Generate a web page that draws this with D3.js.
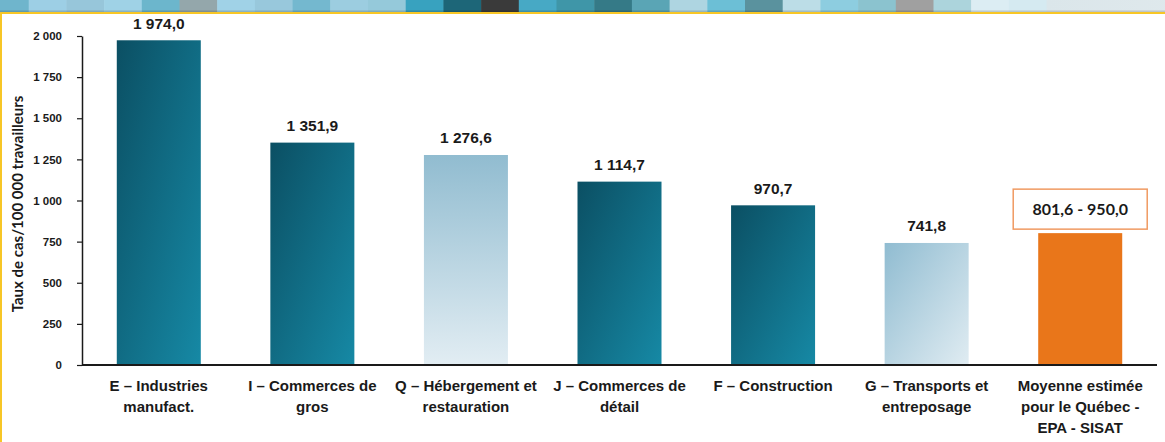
<!DOCTYPE html>
<meta charset="utf-8">
<script src="https://d3js.org/d3.v7.min.js"></script>
<style>
    body { margin: 0; background: #fff; }
    .tick text { font-family: "Liberation Sans", Arial, sans-serif; font-weight: bold; font-size: 11.5px; fill: #1a1a1a; }
    .val-label { font-family: "Liberation Sans", Arial, sans-serif; font-weight: bold; font-size: 15.5px; fill: #1a1a1a; }
    .cat-label { font-family: "Liberation Sans", Arial, sans-serif; font-weight: bold; font-size: 15px; fill: #1a1a1a; }
    .y-title { font-family: Lato, "Open Sans", sans-serif; font-weight: bold; font-size: 15px; fill: #1a1a1a; }
    .range-label { font-family: Lato, "Open Sans", sans-serif; font-weight: bold; font-size: 16px; fill: #1a1a1a; }
</style>
<body>
<div id="chart"></div>
<script>
    // data
    const categories = ["E", "I", "Q", "J", "F", "G", "QC"]
    const categoryLines = [
        ["E – Industries", "manufact."],
        ["I – Commerces de", "gros"],
        ["Q – Hébergement et", "restauration"],
        ["J – Commerces de", "détail"],
        ["F – Construction"],
        ["G – Transports et", "entreposage"],
        ["Moyenne estimée", "pour le Québec -", "EPA - SISAT"]
    ]
    const values = [1974.0, 1351.9, 1276.6, 1114.7, 970.7, 741.8, 801.6]
    const barStyle = ["dark", "dark", "lightV", "dark", "dark", "lightD", "orange"]
    const rangeLabel = "801,6 - 950,0"
    const yTicks = [0, 250, 500, 750, 1000, 1250, 1500, 1750, 2000]
    const yTitle = "Taux de cas/100 000 travailleurs"

    // decorative strip at the top of the slide
    const stripColors = ["#6fb5cc", "#9dcfe5", "#97c6da", "#9fd2e6", "#6cb6cc", "#94a7ab", "#a0d2e7",
        "#98c8dc", "#74b8cf", "#9ccde0", "#95c9da", "#38a2bf", "#1d6678", "#3a3a3a", "#47a9c5",
        "#3f96a8", "#357a87", "#5aa5b5", "#aed5e1", "#6cbfd6", "#5a929e", "#bcdde7", "#8dcde0",
        "#8bc3cf", "#a0a0a0", "#acd4dc", "#dcedf3", "#d5eaf1"]

    const W = 1165, H = 442
    const svg = d3.select("#chart").append("svg")
        .attr("width", W).attr("height", H)

    const defs = svg.append("defs")
    function grad(id, x2, y2, c1, c2) {
        const g = defs.append("linearGradient").attr("id", id)
            .attr("x1", 0).attr("y1", 0).attr("x2", x2).attr("y2", y2)
        g.append("stop").attr("offset", "0%").attr("stop-color", c1)
        g.append("stop").attr("offset", "100%").attr("stop-color", c2)
    }
    grad("dark", 1, 1, "#0b4f63", "#1689a5")
    grad("lightV", 0, 1, "#91bcd0", "#e2edf3")
    grad("lightD", 1, 1, "#90bcd1", "#e0ecf2")
    grad("fade", 1, 0, "#dbe6ea", "#ffffff")
    const fills = {dark: "url(#dark)", lightV: "url(#lightV)", lightD: "url(#lightD)", orange: "#e9761a"}

    // top strip
    const sw = 37.7
    svg.selectAll(".strip").data(stripColors).join("rect")
        .attr("x", (d, i) => -9 + i * sw).attr("y", 0)
        .attr("width", sw + 0.5).attr("height", 12)
        .attr("fill", d => d)
    svg.append("rect").attr("x", -9 + stripColors.length * sw).attr("y", 0)
        .attr("width", W).attr("height", 12).attr("fill", "url(#fade)")
    svg.append("rect").attr("x", 0).attr("y", 10.5).attr("width", W).attr("height", 1.5)
        .attr("fill", "#000").attr("opacity", 0.15)
    svg.append("rect").attr("x", 0).attr("y", 12).attr("width", W).attr("height", 2)
        .attr("fill", "#f7c626")
    svg.append("rect").attr("x", 0).attr("y", 12).attr("width", 2).attr("height", H)
        .attr("fill", "#f7c626")

    // scales
    const x = d3.scaleBand().domain(categories).range([82, 1157])
        .paddingInner(0.453).paddingOuter(0.2265)
    const y = d3.scaleLinear().domain([0, 2000]).range([365, 36])

    const fr = d3.formatLocale({decimal: ",", thousands: " ", grouping: [3], currency: ["", " $"]})
    const fmtTick = fr.format(",d")
    const fmtVal = fr.format(",.1f")

    // y axis
    const yAxis = svg.append("g").attr("transform", "translate(82,0)")
        .call(d3.axisLeft(y).tickValues(yTicks).tickFormat(fmtTick).tickSize(5).tickSizeOuter(0))
    yAxis.select(".domain").attr("stroke", "#1a1a1a").attr("stroke-width", 1.5)
    yAxis.selectAll(".tick line").attr("stroke", "#1a1a1a").attr("stroke-width", 1.2)
    yAxis.selectAll(".tick text").attr("x", -20)

    svg.append("text").attr("class", "y-title")
        .attr("transform", "translate(23,204) rotate(-90)")
        .attr("text-anchor", "middle")
        .text(yTitle)

    // bars
    svg.selectAll(".bar").data(values).join("rect")
        .attr("x", (d, i) => x(categories[i]))
        .attr("y", d => y(d))
        .attr("width", x.bandwidth())
        .attr("height", d => y(0) - y(d))
        .attr("fill", (d, i) => fills[barStyle[i]])

    // value labels (the last one gets a boxed range label)
    svg.selectAll(".val-label").data(values.slice(0, -1)).join("text")
        .attr("class", "val-label")
        .attr("x", (d, i) => x(categories[i]) + x.bandwidth() / 2)
        .attr("y", d => y(d) - 11.5)
        .attr("text-anchor", "middle")
        .text(d => fmtVal(d))

    const last = categories[categories.length - 1]
    const cx = x(last) + x.bandwidth() / 2
    const topLast = y(values[values.length - 1])
    svg.append("rect")
        .attr("x", cx - 67).attr("y", topLast - 44)
        .attr("width", 134).attr("height", 40)
        .attr("fill", "#fff").attr("stroke", "#f09a62").attr("stroke-width", 1.5)
    svg.append("text").attr("class", "range-label")
        .attr("x", cx).attr("y", topLast - 18.5)
        .attr("text-anchor", "middle")
        .text(rangeLabel)

    // baseline
    svg.append("line").attr("x1", 82).attr("x2", 1157)
        .attr("y1", y(0)).attr("y2", y(0))
        .attr("stroke", "#1a1a1a").attr("stroke-width", 2)

    // category labels
    categoryLines.forEach((lines, i) => {
        const t = svg.append("text").attr("class", "cat-label")
            .attr("text-anchor", "middle")
        lines.forEach((ln, j) => {
            t.append("tspan")
                .attr("x", x(categories[i]) + x.bandwidth() / 2)
                .attr("y", 391 + j * 21)
                .text(ln)
        })
    })
</script>
</body>
